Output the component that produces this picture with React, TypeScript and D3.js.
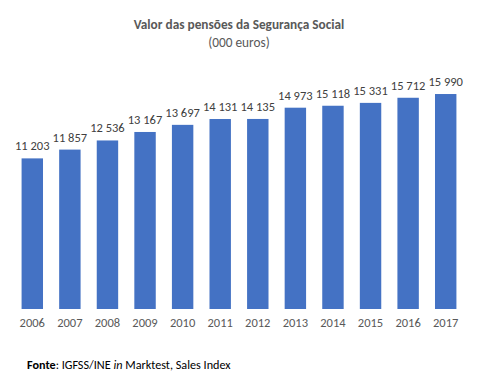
import React from 'react';
import {scaleBand, scaleLinear} from 'd3';

const years = ['2006', '2007', '2008', '2009', '2010', '2011', '2012', '2013', '2014', '2015', '2016', '2017'];
const values = [11203, 11857, 12536, 13167, 13697, 14131, 14135, 14973, 15118, 15331, 15712, 15990];

const width = 479;
const height = 388;
const font = 'Calibri, Carlito, Lato, sans-serif';

const fmt = (v: number) => String(v).replace(/\B(?=(\d{3})+(?!\d))/g, ' ');

export default function App() {
  const xScale = scaleBand<string>()
    .domain(years)
    .range([13.5, 464.5])
    .paddingInner(0.43)
    .paddingOuter(0.215);

  const yScale = scaleLinear()
    .domain([0, 18000])
    .range([309, 67]);

  return (
    <svg width={width} height={height} style={{position: 'absolute', left: 0, top: 0, background: 'white'}}>
      <text x={239} y={29} textAnchor="middle" fontFamily={font} fontWeight="bold" fontSize={13.3} fill="#595959">
        Valor das pensões da Segurança Social
      </text>
      <text x={239} y={47} textAnchor="middle" fontFamily={font} fontSize={13.3} fill="#595959">
        (000 euros)
      </text>
      {years.map((y, i) => (
        <g key={y}>
          <rect
            x={xScale(y)}
            y={yScale(values[i])}
            width={xScale.bandwidth()}
            height={yScale(0) - yScale(values[i])}
            fill="#4472C4"
          />
          <text
            x={(xScale(y) ?? 0) + xScale.bandwidth() / 2}
            y={yScale(values[i]) - 8}
            textAnchor="middle"
            fontFamily={font}
            fontSize={12.5}
            fill="#404040"
          >{fmt(values[i])}</text>
          <text
            x={(xScale(y) ?? 0) + xScale.bandwidth() / 2}
            y={327}
            textAnchor="middle"
            fontFamily={font}
            fontSize={12.5}
            fill="#595959"
          >{y}</text>
        </g>
      ))}
      <text x={27} y={369} fontFamily={font} fontSize={12.2} fill="#000">
        <tspan fontWeight="bold">Fonte</tspan>
        <tspan>: IGFSS/INE </tspan>
        <tspan fontStyle="italic">in</tspan>
        <tspan> Marktest, Sales Index</tspan>
      </text>
    </svg>
  );
}
